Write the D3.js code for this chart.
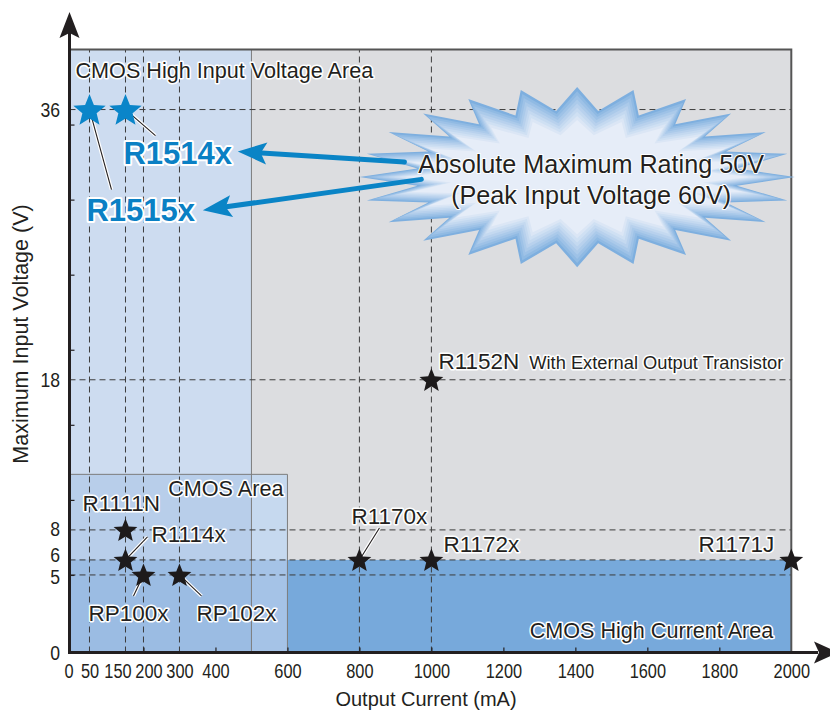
<!DOCTYPE html>
<html>
<head>
<meta charset="utf-8">
<script src="https://cdn.jsdelivr.net/npm/d3@7"></script>
<style>
  body { margin: 0; background: #fff; }
  text { font-family: "Liberation Sans", Arial, sans-serif; fill: #231f20; }
</style>
</head>
<body>
<div id="chart"></div>
<script>
var width = 830;
var height = 711;

// regulator families: output current (mA) vs maximum input voltage (V)
var partNames = ["R1515x", "R1514x", "R1111N", "R1114x", "RP100x", "RP102x", "R1170x", "R1172x", "R1171J", "R1152N"];
var partCurrent = [50, 150, 150, 150, 200, 300, 800, 1000, 2000, 1000];
var partVoltage = [36, 36, 8, 6, 5, 5, 6, 6, 6, 18];
var partHighVolt = [true, true, false, false, false, false, false, false, false, false];

// process areas
var areaNames = ["CMOS High Input Voltage Area", "CMOS Area", "CMOS High Current Area"];
var areaCurrent = [[0, 500], [0, 600], [0, 2000]];
var areaVoltage = [[0, 40], [0, 11.7], [0, 6]];

var xTickValues = [0, 50, 150, 200, 300, 400, 600, 800, 1000, 1200, 1400, 1600, 1800, 2000];
var yTickValues = [0, 5, 6, 8, 18, 36];
var xMinorTicks = [200, 400, 600, 800, 1000, 1200, 1400, 1600, 1800];
var yMinorTicks = [5, 10, 15, 20, 25, 30, 35];
var xGridValues = [50, 150, 200, 300, 800, 1000];
var yGridValues = [5, 6, 8, 18, 36];

var burstLines = ["Absolute Maximum Rating 50V", "(Peak Input Voltage 60V)"];
var noteText = "With External Output Transistor";

// label layout (pixel offsets from each star)
var labelLayout = {
  R1515x: { anchor: "start", dx: -3, dy: 111, leader: [22, 80] },
  R1514x: { anchor: "start", dx: -2, dy: 54, leader: [30, 26] },
  R1111N: { anchor: "start", dx: -43, dy: -19 },
  R1114x: { anchor: "start", dx: 26, dy: -18, leader: [22, -23] },
  RP100x: { anchor: "middle", dx: -15, dy: 46, leader: [-10, 21] },
  RP102x: { anchor: "start", dx: 17, dy: 46, leader: [22, 21] },
  R1170x: { anchor: "middle", dx: 30, dy: -36, leader: [20, -32] },
  R1172x: { anchor: "start", dx: 12, dy: -8 },
  R1171J: { anchor: "end", dx: -17, dy: -8 },
  R1152N: { anchor: "start", dx: 7, dy: -11 }
};

var svg = d3
  .select("#chart")
  .append("svg")
  .attr("width", width)
  .attr("height", height);

var x = d3.scaleLinear().domain([0, 2000]).range([71.5, 791.3]);
var y = d3.scaleLinear().domain([0, 40]).range([650, 49.5]);
var axisX = 69.5, axisY = 652.5;

function box(i) {
  return { x0: areaCurrent[i][0], x1: areaCurrent[i][1], y0: areaVoltage[i][0], y1: areaVoltage[i][1] };
}
function meet(a, b) {
  return { x0: Math.max(a.x0, b.x0), x1: Math.min(a.x1, b.x1), y0: Math.max(a.y0, b.y0), y1: Math.min(a.y1, b.y1) };
}
// rect in pixels, left/bottom edges that sit on zero go under the axes
function px(b) {
  var l = b.x0 === 0 ? axisX : x(b.x0);
  var bt = b.y0 === 0 ? axisY : y(b.y0);
  return { l: l, r: x(b.x1), t: y(b.y1), b: bt };
}

// plot background
var frame = px({ x0: 0, x1: 2000, y0: 0, y1: 40 });
svg
  .append("rect")
  .attr("x", frame.l)
  .attr("y", frame.t)
  .attr("width", frame.r - frame.l)
  .attr("height", frame.b - frame.t)
  .style("fill", "#dcdde0");

var hi = box(0), cm = box(1), hc = box(2);
var patches = [
  [hi, "#cddcf0"],
  [cm, "#c6d9ef"],
  [meet(cm, hi), "#b8ceea"],
  [hc, "#77a9db"],
  [meet(hc, cm), "#a5c3e7"],
  [meet(meet(hc, cm), hi), "#9bbce3"]
];

svg
  .selectAll(".patch")
  .data(patches)
  .enter()
  .append("rect")
  .attr("class", "patch")
  .attr("x", (d) => px(d[0]).l)
  .attr("y", (d) => px(d[0]).t)
  .attr("width", (d) => px(d[0]).r - px(d[0]).l)
  .attr("height", (d) => px(d[0]).b - px(d[0]).t)
  .style("fill", (d) => d[1]);

// area outlines
svg
  .append("line")
  .attr("x1", x(hi.x1)).attr("x2", x(hi.x1))
  .attr("y1", axisY).attr("y2", y(hi.y1))
  .style("stroke", "#7d7d7d").style("stroke-width", 1);
svg
  .append("path")
  .attr("d", "M" + axisX + "," + y(cm.y1) + "H" + x(cm.x1) + "V" + axisY)
  .style("fill", "none").style("stroke", "#7d7d7d").style("stroke-width", 1);

// dashed grid
svg
  .selectAll(".hgrid")
  .data(yGridValues)
  .enter()
  .append("line")
  .attr("class", "hgrid")
  .attr("x1", axisX).attr("x2", x(2000))
  .attr("y1", (d) => y(d)).attr("y2", (d) => y(d))
  .style("stroke", "#3c3c3c").style("stroke-width", 1).style("stroke-dasharray", "6,4");
svg
  .selectAll(".vgrid")
  .data(xGridValues)
  .enter()
  .append("line")
  .attr("class", "vgrid")
  .attr("x1", (d) => x(d)).attr("x2", (d) => x(d))
  .attr("y1", axisY).attr("y2", y(40))
  .style("stroke", "#3c3c3c").style("stroke-width", 1).style("stroke-dasharray", "6,4");

// frame top / right
svg
  .append("path")
  .attr("d", "M" + axisX + "," + y(40) + "H" + x(2000) + "V" + axisY)
  .style("fill", "none").style("stroke", "#555").style("stroke-width", 2);

function halo(sel, w) {
  return sel
    .style("stroke", "#fff")
    .style("stroke-width", w)
    .style("stroke-linejoin", "round")
    .style("paint-order", "stroke");
}

// area labels
halo(svg.append("text").attr("x", axisX + 6).attr("y", y(hi.y1) + 28)
  .style("font-size", "21.6px").text(areaNames[0]), 3);
halo(svg.append("text").attr("x", x(cm.x1) - 4).attr("y", y(cm.y1) + 22)
  .attr("text-anchor", "end").style("font-size", "21.6px").text(areaNames[1]), 3);
halo(svg.append("text").attr("x", x(hc.x1) - 18).attr("y", axisY - 14.5)
  .attr("text-anchor", "end").style("font-size", "21.6px").text(areaNames[2]), 3);

// starburst
var burstAt = [1405, 31.5];
var burstR = [605, 6];
var bcx = x(burstAt[0]), bcy = y(burstAt[1]);
var brx = x(burstR[0]) - x(0), bry = y(0) - y(burstR[1]);
var bandColor = d3.interpolateRgb("#7eafdf", "#e6edf8");
var nBands = 9;
for (var i = 0; i < nBands; i++) {
  var t = i / (nBands - 1);
  var rx = brx - t * 46, ry = bry - t * 33;
  var pts = [];
  for (var k = 0; k < 48; k++) {
    var a = -Math.PI / 2 + (k * Math.PI) / 24;
    var r = k % 2 ? 0.74 : 1;
    pts.push([bcx + rx * r * Math.cos(a), bcy + ry * r * Math.sin(a)]);
  }
  svg
    .append("path")
    .attr("d", "M" + pts.join("L") + "Z")
    .style("fill", bandColor(Math.pow(t, 0.85)));
}
burstLines.forEach(function (s, i) {
  halo(svg.append("text")
    .attr("x", bcx + 14)
    .attr("y", bcy - 4 + i * 31)
    .attr("text-anchor", "middle")
    .style("font-size", "25.2px")
    .text(s), 2);
});

// blue arrows from the burst to the high voltage parts
var arrowFrom = [[925, 32.5], [972, 31.35]];
var arrowTo = [[462, 33.2], [365, 29.3]];
arrowFrom.forEach(function (f, i) {
  var p0 = [x(f[0]), y(f[1])];
  var p1 = [x(arrowTo[i][0]), y(arrowTo[i][1])];
  var len = Math.hypot(p1[0] - p0[0], p1[1] - p0[1]);
  var ux = (p1[0] - p0[0]) / len, uy = (p1[1] - p0[1]) / len;
  var qx = -uy, qy = ux;
  svg
    .append("line")
    .attr("x1", p0[0]).attr("y1", p0[1])
    .attr("x2", p1[0] - ux * 20).attr("y2", p1[1] - uy * 20)
    .style("stroke", "#0a84c6").style("stroke-width", 5).style("stroke-linecap", "round");
  var head = [
    p1,
    [p1[0] - ux * 29 + qx * 11, p1[1] - uy * 29 + qy * 11],
    [p1[0] - ux * 23, p1[1] - uy * 23],
    [p1[0] - ux * 29 - qx * 11, p1[1] - uy * 29 - qy * 11]
  ];
  svg.append("path").attr("d", "M" + head.join("L") + "Z").style("fill", "#0a84c6");
});

// axes: minor ticks and tick labels via d3 axes
var fontStack = '"Liberation Sans", Arial, sans-serif';

svg
  .append("g")
  .attr("transform", "translate(0," + axisY + ")")
  .call(d3.axisBottom(x).tickValues(xMinorTicks).tickSize(-5).tickFormat(""))
  .call((g) => g.select(".domain").remove())
  .selectAll("line")
  .style("stroke", "#231f20")
  .style("stroke-width", 1.2);

svg
  .append("g")
  .attr("transform", "translate(" + axisX + ",0)")
  .call(d3.axisLeft(y).tickValues(yMinorTicks).tickSize(-5).tickFormat(""))
  .call((g) => g.select(".domain").remove())
  .selectAll("line")
  .style("stroke", "#231f20")
  .style("stroke-width", 1.2);

var xNudge = { 0: -3, 150: -8, 200: 5 };
var xAxisG = svg
  .append("g")
  .attr("transform", "translate(0," + axisY + ")")
  .call(d3.axisBottom(x).tickValues(xTickValues).tickSize(0).tickPadding(10.5).tickFormat(d3.format("d")));
xAxisG.select(".domain").remove();
xAxisG
  .selectAll("text")
  .style("font-family", fontStack)
  .style("font-size", "21px")
  .style("fill", "#231f20")
  .attr("transform", "scale(0.78,1)")
  .attr("x", (d) => (xNudge[d] || 0) / 0.78);

var yNudge = { 0: 3, 5: 1.5, 6: -5, 8: -1 };
var yAxisG = svg
  .append("g")
  .attr("transform", "translate(" + axisX + ",0)")
  .call(d3.axisLeft(y).tickValues(yTickValues).tickSize(0).tickPadding(11));
yAxisG.select(".domain").remove();
yAxisG
  .selectAll("text")
  .style("font-family", fontStack)
  .style("font-size", "20.5px")
  .style("fill", "#231f20")
  .attr("y", (d) => yNudge[d] || 0)
  .attr("transform", "scale(0.86,1)");

// axis lines with arrowheads
svg
  .append("line")
  .attr("x1", axisX).attr("y1", axisY + 1.5)
  .attr("x2", axisX).attr("y2", 32)
  .style("stroke", "#231f20").style("stroke-width", 3);
svg
  .append("path")
  .attr("d", "M" + axisX + ",12L" + (axisX + 10) + ",38L" + axisX + ",33L" + (axisX - 10) + ",38Z")
  .style("fill", "#231f20");
svg
  .append("line")
  .attr("x1", axisX - 1.5).attr("y1", axisY)
  .attr("x2", 818).attr("y2", axisY)
  .style("stroke", "#231f20").style("stroke-width", 3);
svg
  .append("path")
  .attr("d", "M838," + axisY + "L814," + (axisY - 11) + "L819," + axisY + "L814," + (axisY + 11) + "Z")
  .style("fill", "#231f20");

// axis titles
svg
  .append("text")
  .attr("x", 426)
  .attr("y", 706)
  .attr("text-anchor", "middle")
  .style("font-size", "20px")
  .text("Output Current (mA)");
svg
  .append("text")
  .attr("transform", "translate(28,334) rotate(-90)")
  .attr("text-anchor", "middle")
  .style("font-size", "21.5px")
  .text("Maximum Input Voltage (V)");

// parts: leaders, stars, labels
function starPath(R) {
  var pts = [];
  for (var k = 0; k < 10; k++) {
    var a = -Math.PI / 2 + (k * Math.PI) / 5;
    var r = k % 2 ? R * 0.44 : R;
    pts.push([r * Math.cos(a), r * Math.sin(a)]);
  }
  return "M" + pts.join("L") + "Z";
}

var parts = partNames.map(function (n, i) {
  return { name: n, cx: x(partCurrent[i]), cy: y(partVoltage[i]), blue: partHighVolt[i], lay: labelLayout[n] };
});

parts.forEach(function (p) {
  if (!p.lay.leader) return;
  var x2 = p.cx + p.lay.leader[0], y2 = p.cy + p.lay.leader[1];
  svg.append("line").attr("x1", p.cx).attr("y1", p.cy).attr("x2", x2).attr("y2", y2)
    .style("stroke", "#fff").style("stroke-width", 3.5);
  svg.append("line").attr("x1", p.cx).attr("y1", p.cy).attr("x2", x2).attr("y2", y2)
    .style("stroke", "#231f20").style("stroke-width", 1.1);
});

svg
  .selectAll(".star")
  .data(parts)
  .enter()
  .append("path")
  .attr("class", "star")
  .attr("transform", (d) => "translate(" + d.cx + "," + (d.cy + (d.blue ? 1.5 : 1)) + ")")
  .attr("d", (d) => starPath(d.blue ? 17 : 12.5))
  .style("fill", (d) => (d.blue ? "#0a85c9" : "#1d1a1b"));

parts.forEach(function (p) {
  var t = svg
    .append("text")
    .attr("x", p.cx + p.lay.dx)
    .attr("y", p.cy + p.lay.dy)
    .attr("text-anchor", p.lay.anchor);
  if (p.blue) {
    t.style("font-size", "31px").style("font-weight", "bold").style("fill", "#0a80c4").text(p.name);
    halo(t, 4);
  } else {
    t.style("font-size", "22.5px").text(p.name);
    halo(t, 3);
  }
  if (p.name === "R1152N") {
    t.append("tspan").attr("dx", 10).style("font-size", "18.3px").text(noteText);
  }
});
</script>
</body>
</html>
